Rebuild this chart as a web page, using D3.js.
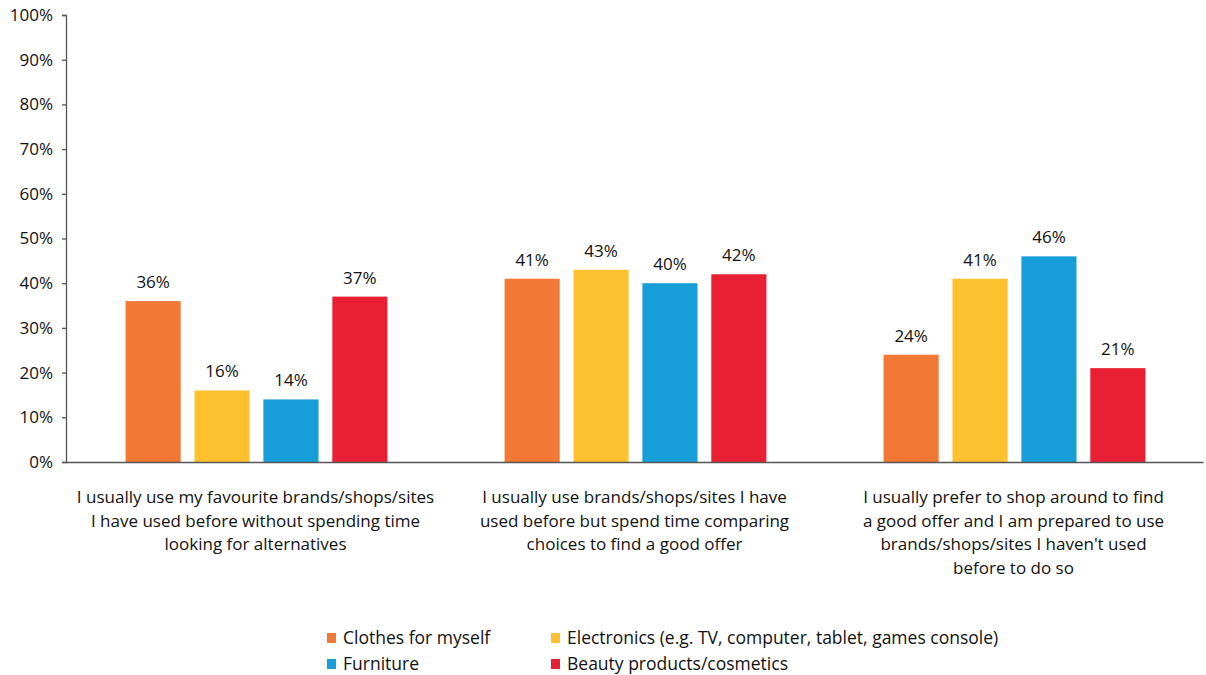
<!DOCTYPE html>
<html>
<head>
<meta charset="utf-8">
<script src="https://cdn.jsdelivr.net/npm/d3@7"></script>
<style>
  html, body { margin: 0; padding: 0; background: #fff; }
  svg { display: block; font-family: "Open Sans", "Noto Sans", sans-serif; }
</style>
</head>
<body>
<svg id="chart" width="1206" height="675"></svg>
<script>
// Shopping behaviour by product category (% of respondents)
const categories = [
  "I usually use my favourite brands/shops/sites|I have used before without spending time|looking for alternatives",
  "I usually use brands/shops/sites I have|used before but spend time comparing|choices to find a good offer",
  "I usually prefer to shop around to find|a good offer and I am prepared to use|brands/shops/sites I haven't used|before to do so"
];
const series = [
  "Clothes for myself",
  "Electronics (e.g. TV, computer, tablet, games console)",
  "Furniture",
  "Beauty products/cosmetics"
];
const clothes     = [36, 41, 24];
const electronics = [16, 43, 41];
const furniture   = [14, 40, 46];
const beauty      = [37, 42, 21];
const yTicks = [0, 10, 20, 30, 40, 50, 60, 70, 80, 90, 100];
const colors = ["#f27836", "#fdc02e", "#179ed9", "#e92034"];

const valuesBySeries = [clothes, electronics, furniture, beauty];

const svg = d3.select("#chart");
const plotLeft = 66, plotRight = 1203, plotTop = 15, plotBottom = 462;

const x0 = d3.scaleBand().domain(d3.range(categories.length)).range([plotLeft, plotRight]);
const x1 = d3.scaleBand().domain(d3.range(series.length))
  .range([0, x0.bandwidth()]).paddingInner(0.2).paddingOuter(0.85);
const y = d3.scaleLinear().domain([0, 100]).range([plotBottom, plotTop]);

const textColor = "#111";
const axisColor = "#555";
const fontSize = 17;

// bars
const groups = svg.append("g").selectAll("g")
  .data(categories.map((c, i) => i))
  .join("g")
  .attr("transform", i => `translate(${x0(i)},0)`);

groups.selectAll("rect")
  .data(i => valuesBySeries.map((vals, s) => ({ s, v: vals[i] })))
  .join("rect")
  .attr("x", d => x1(d.s) + 1)
  .attr("width", x1.bandwidth())
  .attr("y", d => y(d.v))
  .attr("height", d => y(0) - y(d.v))
  .attr("fill", d => colors[d.s]);

groups.selectAll("text")
  .data(i => valuesBySeries.map((vals, s) => ({ s, v: vals[i] })))
  .join("text")
  .attr("x", d => x1(d.s) + 1 + x1.bandwidth() / 2)
  .attr("y", d => y(d.v) - 13)
  .attr("text-anchor", "middle")
  .attr("font-size", fontSize)
  .attr("fill", textColor)
  .text(d => d.v + "%");

// y axis
const yAxis = svg.append("g")
  .attr("transform", `translate(${plotLeft},0)`)
  .call(d3.axisLeft(y).tickValues(yTicks).tickSize(4).tickPadding(9)
    .tickFormat(d => d + "%"));
yAxis.select(".domain").attr("stroke", axisColor).attr("stroke-width", 1.3);
yAxis.selectAll(".tick line").attr("stroke", axisColor).attr("stroke-width", 1.3);
yAxis.selectAll(".tick text")
  .attr("font-size", fontSize).attr("fill", textColor)
  .attr("font-family", "Open Sans, Noto Sans, sans-serif");

// x axis baseline
const xAxis = svg.append("g")
  .attr("transform", `translate(0,${plotBottom})`)
  .call(d3.axisBottom(x0).tickSize(0).tickFormat(""));
xAxis.select(".domain").attr("stroke", axisColor).attr("stroke-width", 1.5);

// category labels
const catLabels = svg.append("g").selectAll("text")
  .data(categories.map((c, i) => ({ c, i })))
  .join("text")
  .attr("x", d => x0(d.i) + x0.bandwidth() / 2)
  .attr("y", 503)
  .attr("text-anchor", "middle")
  .attr("font-size", fontSize)
  .attr("fill", textColor);
catLabels.selectAll("tspan")
  .data(d => d.c.split("|").map((line, k) => ({ line, k, x: x0(d.i) + x0.bandwidth() / 2 })))
  .join("tspan")
  .attr("x", d => d.x)
  .attr("dy", d => d.k === 0 ? 0 : 23.5)
  .text(d => d.line);

// legend
const legendPos = [
  { x: 327, y: 638 }, { x: 551, y: 638 },
  { x: 327, y: 664 }, { x: 551, y: 664 }
];
const legend = svg.append("g").selectAll("g")
  .data(series.map((name, s) => ({ name, s })))
  .join("g")
  .attr("transform", d => `translate(${legendPos[d.s].x},${legendPos[d.s].y})`);
legend.append("rect")
  .attr("x", 0).attr("y", -5).attr("width", 9).attr("height", 10)
  .attr("fill", d => colors[d.s]);
legend.append("text")
  .attr("x", 16).attr("y", 0).attr("dy", "0.35em")
  .attr("font-size", 17.5).attr("fill", textColor)
  .text(d => d.name);
</script>
</body>
</html>
